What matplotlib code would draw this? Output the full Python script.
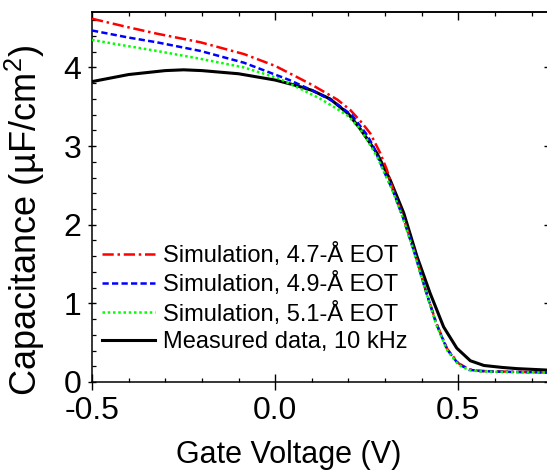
import matplotlib
matplotlib.use("Agg")
import matplotlib.pyplot as plt
from matplotlib.ticker import MultipleLocator, FormatStrFormatter

plt.rcParams['font.family'] = ['Liberation Sans', 'DejaVu Sans']
plt.rcParams['mathtext.fontset'] = 'custom'
plt.rcParams['mathtext.rm'] = 'Liberation Sans'
plt.rcParams['axes.unicode_minus'] = False

# Measured C-V at 10 kHz
meas_v = [-0.5, -0.4, -0.3, -0.25, -0.2, -0.1, 0.0, 0.05, 0.1, 0.15, 0.2, 0.232,
          0.25, 0.278, 0.314, 0.351, 0.387, 0.423, 0.46, 0.496, 0.533, 0.57,
          0.62, 0.66, 0.75]
meas_c = [3.82, 3.91, 3.96, 3.97, 3.96, 3.92, 3.84, 3.78, 3.71, 3.60, 3.41, 3.22,
          3.10, 2.91, 2.57, 2.15, 1.60, 1.13, 0.70, 0.43, 0.27, 0.21,
          0.185, 0.17, 0.15]

# Simulations for three EOT values
sim47_v = [-0.5, -0.4, -0.323, -0.204, -0.085, 0.0, 0.067, 0.1, 0.141, 0.17, 0.205,
           0.238, 0.26, 0.287, 0.305, 0.32, 0.35, 0.38, 0.41, 0.44, 0.47, 0.50,
           0.53, 0.56, 0.6, 0.7, 0.75]
sim47_c = [4.62, 4.51, 4.43, 4.32, 4.17, 4.02, 3.86, 3.78, 3.67, 3.59, 3.46,
           3.29, 3.16, 2.91, 2.70, 2.47, 2.09, 1.66, 1.18, 0.75, 0.42, 0.24,
           0.16, 0.14, 0.135, 0.125, 0.12]

sim49_v = [-0.5, -0.4, -0.323, -0.204, -0.085, 0.039, 0.105, 0.162, 0.21, 0.248,
           0.267, 0.295, 0.32, 0.35, 0.38, 0.41, 0.44, 0.47, 0.50, 0.53, 0.56,
           0.6, 0.7, 0.75]
sim49_c = [4.47, 4.38, 4.32, 4.21, 4.06, 3.84, 3.70, 3.56, 3.39, 3.16,
           3.01, 2.70, 2.45, 2.08, 1.65, 1.18, 0.74, 0.41, 0.23, 0.155, 0.14,
           0.132, 0.124, 0.12]

sim51_v = [-0.5, -0.4, -0.323, -0.204, -0.085, 0.01, 0.077, 0.124, 0.17, 0.2,
           0.23, 0.25, 0.28, 0.3, 0.32, 0.35, 0.38, 0.41, 0.44, 0.47, 0.50,
           0.53, 0.56, 0.6, 0.7, 0.75]
sim51_c = [4.35, 4.27, 4.21, 4.11, 4.00, 3.86, 3.71, 3.60, 3.47, 3.38,
           3.23, 3.09, 2.85, 2.64, 2.44, 2.07, 1.64, 1.17, 0.73, 0.40, 0.22,
           0.15, 0.135, 0.13, 0.122, 0.118]

labels = ['Simulation, 4.7-Å EOT', 'Simulation, 4.9-Å EOT',
          'Simulation, 5.1-Å EOT', 'Measured data, 10 kHz']

fig = plt.figure(figsize=(5.47, 4.72), dpi=100)
ax = fig.add_axes([0.1682, 0.1907, 0.837, 0.783])

l_meas, = ax.plot(meas_v, meas_c, color='black', lw=2.2, zorder=2)
l47, = ax.plot(sim47_v, sim47_c, color='#ff0000', lw=1.8,
               linestyle=(0, (4.5, 1.5, 1.0, 1.5)), zorder=3)
l49, = ax.plot(sim49_v, sim49_c, color='#0000ff', lw=1.8,
               linestyle=(0, (2.5, 1.3)), zorder=3)
l51, = ax.plot(sim51_v, sim51_c, color='#00ff00', lw=1.8,
               linestyle=(0, (1.0, 1.1)), zorder=3)

ax.set_xlim(-0.5, 0.75)
ax.set_ylim(0, 4.7)

ax.xaxis.set_major_locator(MultipleLocator(0.5))
ax.xaxis.set_minor_locator(MultipleLocator(0.1))
ax.yaxis.set_major_locator(MultipleLocator(1))
ax.yaxis.set_minor_locator(MultipleLocator(0.2))
ax.xaxis.set_major_formatter(FormatStrFormatter('%.1f'))

ax.tick_params(axis='x', which='major', direction='inout', length=11.5,
               width=1.0, labelsize=23, pad=4.5)
ax.tick_params(axis='y', which='major', direction='inout', length=6,
               width=1.0, labelsize=23, pad=4.5)
ax.tick_params(which='minor', direction='in', length=3, width=0.9)

# top and right ticks pointing inward only
top = ax.secondary_xaxis('top')
top.xaxis.set_major_locator(MultipleLocator(0.5))
top.xaxis.set_minor_locator(MultipleLocator(0.1))
top.tick_params(which='major', direction='in', length=5.5, width=1.0, labeltop=False)
top.tick_params(which='minor', direction='in', length=2.8, width=0.9)
right = ax.secondary_yaxis('right')
right.yaxis.set_major_locator(MultipleLocator(1))
right.yaxis.set_minor_locator(MultipleLocator(0.2))
right.tick_params(which='major', direction='in', length=4, width=1.0, labelright=False)
right.tick_params(which='minor', direction='in', length=1.5, width=0.9)

for sp in list(ax.spines.values()) + [top.spines['top'], right.spines['right']]:
    sp.set_linewidth(1.1)

ax.set_xlabel('Gate Voltage (V)', fontsize=22)
ax.set_ylabel('Capacitance (µF/cm$^2$)', fontsize=26)
ax.xaxis.set_label_coords(0.429, -0.156)
ax.yaxis.set_label_coords(-0.098, 0.436)

ax.legend([l47, l49, l51, l_meas], labels, loc='lower left',
          bbox_to_anchor=(0.022, 0.079), frameon=False, fontsize=17,
          handlelength=2.25, handletextpad=0.34, labelspacing=0.22,
          borderpad=0, borderaxespad=0)

fig.savefig('out.png', dpi=100)
